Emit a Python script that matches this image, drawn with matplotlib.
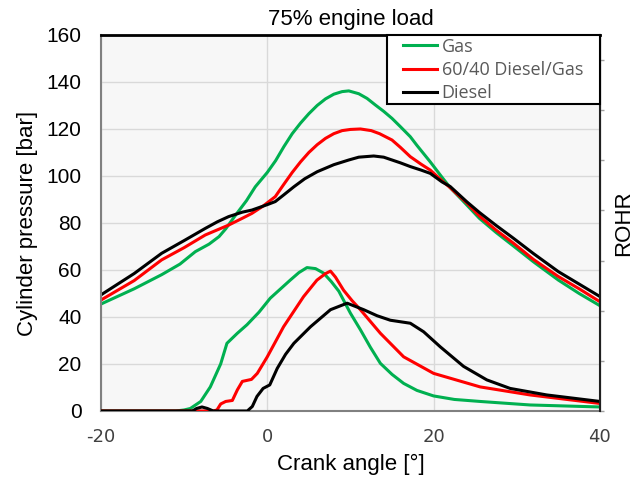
import matplotlib
matplotlib.use("Agg")
import matplotlib.pyplot as plt
from matplotlib.patches import Rectangle

plt.rcParams["axes.unicode_minus"] = False

# cylinder pressure [bar]
gas_p_x = [-20, -16, -12.7, -10.5, -8.65, -7, -5.8, -5, -3.8, -2.5, -1.44, 0, 1, 2, 3, 4, 5, 6, 7, 8, 9, 9.8, 11, 12, 13, 14, 15, 16, 17.2, 18, 19.6, 21, 22, 23.5, 25.5, 27.5, 29.6, 32, 35, 37.5, 40]
gas_p = [45.5, 52, 58, 62.5, 67.8, 71, 74.2, 77.5, 83.4, 89.5, 95.4, 101.5, 106.5, 112.5, 118, 122.5, 126.5, 130, 132.8, 134.8, 135.9, 136.2, 135, 133, 130.2, 127.5, 124.5, 121, 116.7, 113, 106, 99.5, 95, 89.5, 82, 76, 70.2, 63.5, 55.7, 50, 44.8]
mix_p_x = [-20, -16, -12.7, -10, -7.45, -4.65, -3, -1.84, -0.5, 0.96, 2, 3, 4, 5, 6, 7, 8, 9, 10, 11.2, 12.5, 13.5, 15, 16, 17.2, 18.5, 19.6, 21, 22, 24, 25.5, 27.5, 29.6, 32, 35, 37.5, 40]
mix_p = [47.2, 55.5, 64.3, 69.5, 74.9, 79.1, 82, 84.1, 87.2, 91.2, 96.5, 101.5, 106, 110, 113.3, 116, 118, 119.3, 119.8, 120, 119.3, 118, 115.3, 112.2, 108.2, 105, 102.5, 98, 95, 88.5, 83, 77, 71.4, 64.5, 57.2, 52, 46.5]
dsl_p_x = [-20, -16, -12.7, -10, -7.45, -6, -4.65, -3, -1.84, 0, 0.96, 2, 3.2, 4.5, 6, 8, 9.8, 11, 12.8, 14, 15, 16, 17.2, 18.5, 19.6, 21, 22, 24, 25.5, 27.5, 29.6, 32, 35, 37.5, 40]
dsl_p = [49.4, 58.5, 67.1, 72.5, 77.7, 80.5, 82.7, 84.6, 85.5, 87.8, 89.1, 92, 95.4, 98.8, 101.8, 104.8, 106.8, 108, 108.5, 108, 106.8, 105.6, 104, 102.5, 101.1, 97.5, 95.5, 89, 84.5, 79, 73.5, 67, 59.3, 54, 48.7]

# rate of heat release (right axis, unlabeled units)
gas_r_x = [-20, -11, -10, -9.25, -8, -6.85, -5.6, -4.85, -3.6, -2.44, -1, 0.36, 2.76, 3.8, 4.77, 5.8, 6.77, 7.7, 8.6, 10, 11.2, 12.4, 13.6, 15, 16.4, 18, 20, 22.5, 25.6, 31.6, 40]
gas_r = [0, 0, 2, 5, 19, 48, 94, 135, 155, 172, 197, 225, 261, 276, 286, 284, 275, 258, 239, 195, 162, 127, 95, 73, 55, 41, 30, 23, 19, 12, 8]
mix_r_x = [-20, -6.5, -6.05, -5.6, -5.0, -4.2, -3.6, -3.0, -1.9, -1.2, 0, 1.96, 4.36, 5.97, 7.0, 7.6, 8.2, 9.17, 10.2, 11.2, 13.6, 16.4, 20, 25.6, 31.6, 40]
mix_r = [0, 0, 2, 14, 19, 21, 42, 59, 63, 75, 108, 168, 228, 261, 274, 279, 267, 241, 220, 202, 155, 108, 75, 48, 32, 15]
dsl_r_x = [-20, -9, -8.5, -7.85, -7.2, -6.5, -2.4, -1.8, -1.24, -0.5, 0.3, 1.2, 2.2, 3.2, 5.2, 7.6, 9.6, 11.6, 13.2, 14.8, 17.2, 18.8, 20.8, 23.6, 26.4, 29.2, 33.6, 40]
dsl_r = [0, 0, 5, 8, 5, 0, 0, 9, 29, 45, 52, 85, 113, 135, 168, 202, 215, 202, 190, 181, 175, 158, 128, 89, 62, 45, 32, 19]

GREEN = "#00b050"
RED = "#ff0000"
BLACK = "#000000"
LW = 2.2

fig = plt.figure(figsize=(6.43, 4.79), dpi=100)
ax = fig.add_axes([0.157, 0.142, 0.776, 0.785])
ax.set_facecolor("#f7f7f7")

ax.plot(gas_p_x, gas_p, color=GREEN, lw=LW, label="Gas")
ax.plot(mix_p_x, mix_p, color=RED, lw=LW, label="60/40 Diesel/Gas")
ax.plot(dsl_p_x, dsl_p, color=BLACK, lw=LW, label="Diesel")

ax.set_xlim(-20, 40)
ax.set_ylim(0, 160)
ax.set_xticks([-20, 0, 20, 40])
ax.set_yticks(range(0, 161, 20))
ax.grid(True, color="#d9d9d9", lw=1.0)
ax.set_axisbelow(True)
ax.tick_params(axis="y", length=0, pad=14, labelsize=15, labelcolor="black")
ax.tick_params(axis="x", length=0, pad=12, labelsize=13, labelcolor="#404040")
for lab in ax.get_yticklabels():
    lab.set_family("Liberation Sans")
ax.set_xlabel("Crank angle [°]", fontsize=16, family="Liberation Sans", labelpad=6)
ax.set_ylabel("Cylinder pressure [bar]", fontsize=16, family="Liberation Sans", labelpad=6)
ax.set_title("75% engine load", fontsize=16, family="Liberation Sans", pad=7)

for s in ["left", "bottom"]:
    ax.spines[s].set_color("#808080")
    ax.spines[s].set_linewidth(1.5)

ax2 = ax.twinx()
ax2.plot(gas_r_x, gas_r, color=GREEN, lw=LW)
ax2.plot(mix_r_x, mix_r, color=RED, lw=LW)
ax2.plot(dsl_r_x, dsl_r, color=BLACK, lw=LW)
ax2.set_ylim(0, 750)
ax2.set_yticks(range(0, 701, 100))
ax2.set_yticklabels([])
ax2.tick_params(axis="y", length=3, width=1, color="#a0a0a0", direction="out")
ax2.set_ylabel("ROHR", fontsize=16, family="Liberation Sans", labelpad=3)
ax2.spines["left"].set_visible(False)
ax2.spines["bottom"].set_visible(False)
ax2.spines["top"].set_linewidth(2)
ax2.spines["right"].set_color("#202020")
ax2.spines["right"].set_linewidth(1.5)

# legend box
ax2.add_patch(Rectangle((0.573, 0.8165), 0.427, 0.1835, transform=ax.transAxes,
                        facecolor="white", edgecolor="black", lw=1.5, zorder=5, clip_on=False))
handles, labels = ax.get_legend_handles_labels()
leg = ax2.legend(handles, labels, loc="upper left", bbox_to_anchor=(0.605, 0.993),
                 frameon=False, borderpad=0, borderaxespad=0, handlelength=1.9,
                 handletextpad=0.25, labelspacing=0.3,
                 prop={"family": "Open Sans", "size": 13})
leg.set_zorder(6)
for t in leg.get_texts():
    t.set_color("#595959")

fig.savefig("out.png", dpi=100)
